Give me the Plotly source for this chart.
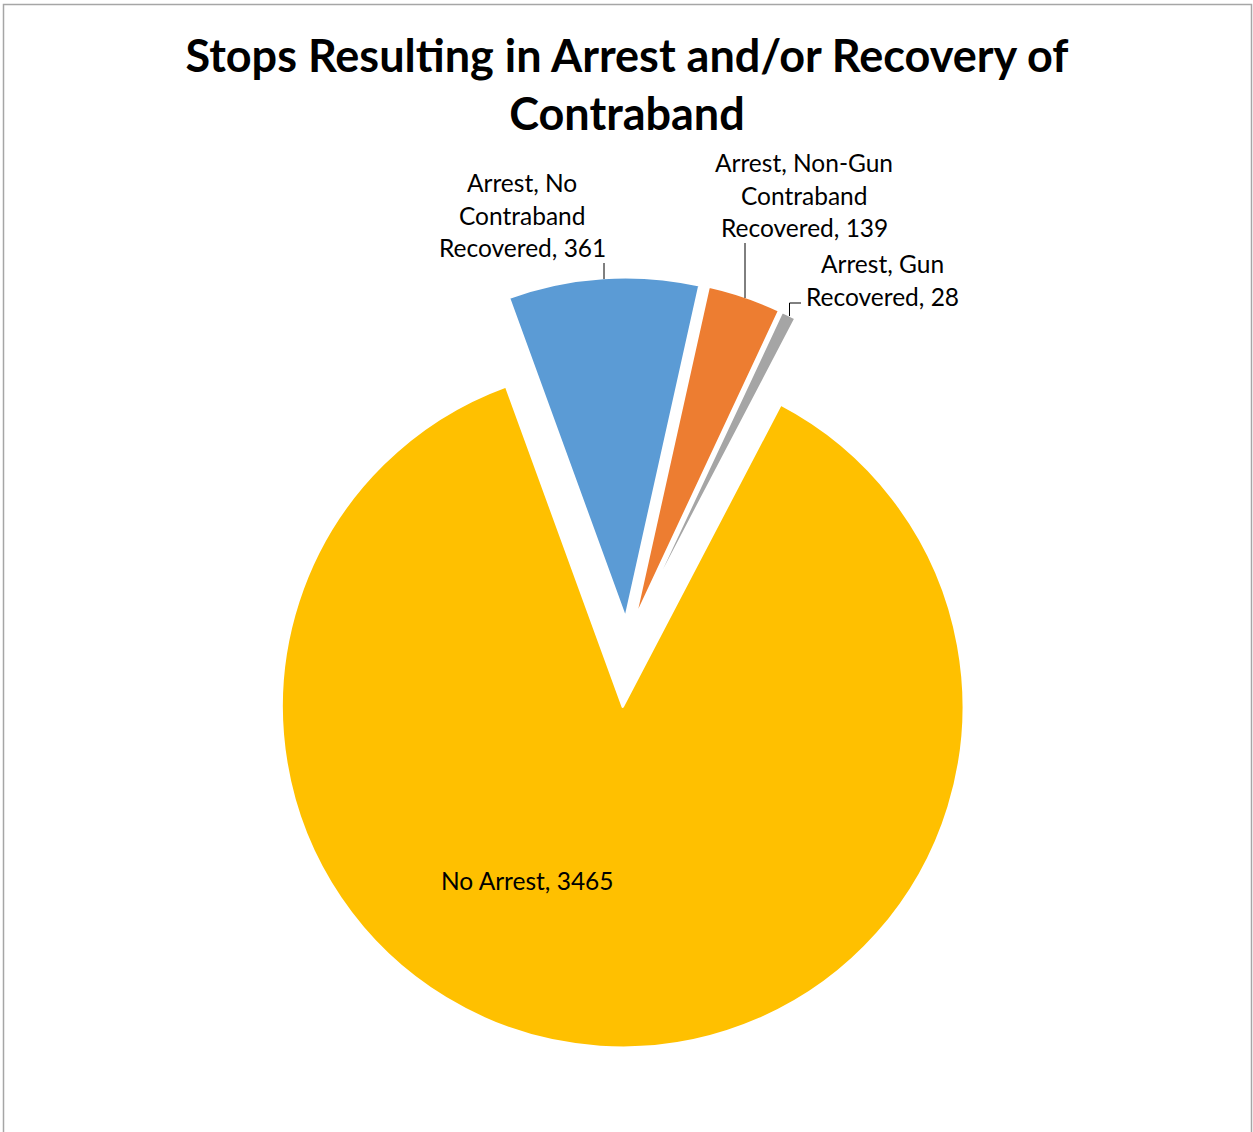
import plotly.graph_objects as go

# ---- data ----
categories = ["Arrest, No Contraband Recovered",
              "Arrest, Non-Gun Contraband Recovered",
              "Arrest, Gun Recovered",
              "No Arrest"]
values = [361, 139, 28, 3465]
label_lines = [["Arrest, No", "Contraband", "Recovered, 361"],
               ["Arrest, Non-Gun", "Contraband", "Recovered, 139"],
               ["Arrest, Gun", "Recovered, 28"],
               ["No Arrest, 3465"]]
title_text = "Stops Resulting in Arrest and/or Recovery of<br>Contraband"

# ---- style ----
colors = ["#5B9BD5", "#ED7D31", "#A5A5A5", "#FFC000"]
pulls = [0.07, 0.07, 0.07, 0.19]
W, H = 1253, 1132
R = 341
CX, CY = 627, 642
BOX = 2 * R * (1 + max(pulls))
label_centers = [(522, 215), (804, 195), (882, 280), (527, 880)]
line_gap = 32.5
FONT = "Lato"


def px(x):
    return x / W


def py(y):
    return 1 - y / H


fig = go.Figure(go.Pie(
    labels=categories,
    values=values,
    sort=False,
    direction="clockwise",
    rotation=-20,
    pull=pulls,
    marker=dict(colors=colors, line=dict(color="white", width=2.5)),
    textinfo="none",
    hoverinfo="label+value",
    showlegend=False,
    domain=dict(x=[px(CX - BOX / 2), px(CX + BOX / 2)],
                y=[py(CY + BOX / 2), py(CY - BOX / 2)]),
))

annotations = []
for lines, (cx, cy) in zip(label_lines, label_centers):
    n = len(lines)
    for i, t in enumerate(lines):
        yy = cy + (i - (n - 1) / 2) * line_gap
        annotations.append(dict(
            text=t, x=px(cx), y=py(yy), xref="paper", yref="paper",
            xanchor="center", yanchor="middle", showarrow=False,
            font=dict(family=FONT, size=24.5, color="#000000")))

shapes = [
    # leader lines
    dict(type="line", xref="paper", yref="paper", x0=px(604), x1=px(604), y0=py(263), y1=py(279),
         line=dict(color="#000000", width=1)),
    dict(type="line", xref="paper", yref="paper", x0=px(745), x1=px(745), y0=py(243), y1=py(298),
         line=dict(color="#000000", width=1)),
    dict(type="path", xref="paper", yref="paper",
         path=f"M {px(801)} {py(303)} L {px(789.5)} {py(303)} L {px(789.5)} {py(316)}",
         line=dict(color="#000000", width=1)),
    # chart border
    dict(type="path", xref="paper", yref="paper",
         path=f"M {px(3.5)} {py(1140)} L {px(3.5)} {py(4.5)} L {px(1251.5)} {py(4.5)} L {px(1251.5)} {py(1140)}",
         line=dict(color="#A6A6A6", width=1.5)),
]

fig.update_layout(
    width=W, height=H,
    margin=dict(l=0, r=0, t=0, b=0),
    paper_bgcolor="white",
    plot_bgcolor="white",
    title=dict(text=title_text, x=px(627), y=py(71.6), xanchor="center", yanchor="middle",
               xref="paper", yref="container",
               font=dict(family=FONT, size=45, color="#000000", weight="bold")),
    annotations=annotations,
    shapes=shapes,
)

fig.write_html("out.html",
               config=dict(displayModeBar=False),
               post_script="document.body.style.margin='0';document.body.style.overflow='hidden';")
